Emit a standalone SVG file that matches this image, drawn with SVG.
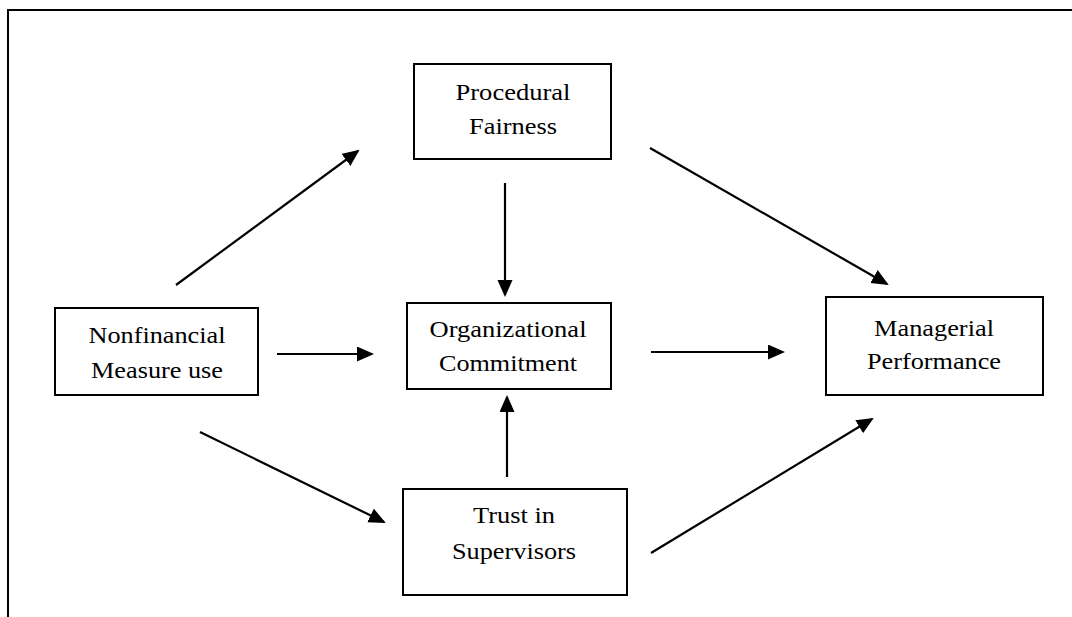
<svg xmlns="http://www.w3.org/2000/svg" width="1072" height="617" viewBox="0 0 1072 617">
<style>
.box{fill:#fff;stroke:#000;stroke-width:2}
.t{font-family:"Liberation Serif","Times New Roman",serif;font-size:23px;fill:#000;text-anchor:middle}
.c{stroke:#000;stroke-width:2.2;fill:none;marker-end:url(#ah)}
.frame{stroke:#000;stroke-width:2;fill:none}
</style>
<defs>
<marker id="ah" markerUnits="userSpaceOnUse" markerWidth="18" markerHeight="16" refX="15" refY="7.5" orient="auto" viewBox="0 0 18 16">
<path d="M0,0 L17,7.5 L0,15 Z" fill="#000"/>
</marker>
</defs>
<path class="frame" d="M8,617 L8,10 L1072,10"/>
<g id="procedural-fairness">
<rect class="box" x="414" y="64" width="197" height="95"/>
<text class="t" x="513" y="100" textLength="115" lengthAdjust="spacingAndGlyphs">Procedural</text>
<text class="t" x="513" y="134" textLength="88" lengthAdjust="spacingAndGlyphs">Fairness</text>
</g>
<g id="nonfinancial-measure-use">
<rect class="box" x="55" y="308" width="203" height="87"/>
<text class="t" x="157" y="343" textLength="137" lengthAdjust="spacingAndGlyphs">Nonfinancial</text>
<text class="t" x="157" y="378" textLength="132" lengthAdjust="spacingAndGlyphs">Measure use</text>
</g>
<g id="organizational-commitment">
<rect class="box" x="407" y="303" width="204" height="86"/>
<text class="t" x="508" y="337" textLength="157" lengthAdjust="spacingAndGlyphs">Organizational</text>
<text class="t" x="508" y="371" textLength="138" lengthAdjust="spacingAndGlyphs">Commitment</text>
</g>
<g id="managerial-performance">
<rect class="box" x="826" y="297" width="217" height="98"/>
<text class="t" x="934" y="336" textLength="120" lengthAdjust="spacingAndGlyphs">Managerial</text>
<text class="t" x="934" y="369" textLength="134" lengthAdjust="spacingAndGlyphs">Performance</text>
</g>
<g id="trust-in-supervisors">
<rect class="box" x="403" y="489" width="224" height="106"/>
<text class="t" x="514" y="523" textLength="82" lengthAdjust="spacingAndGlyphs">Trust in</text>
<text class="t" x="514" y="559" textLength="124" lengthAdjust="spacingAndGlyphs">Supervisors</text>
</g>
<g id="connectors">
<line class="c" x1="176" y1="285" x2="358" y2="151"/>
<line class="c" x1="505" y1="183" x2="505" y2="295"/>
<line class="c" x1="277" y1="354" x2="372" y2="354"/>
<line class="c" x1="651" y1="352" x2="783" y2="352"/>
<line class="c" x1="507" y1="477" x2="507" y2="397"/>
<line class="c" x1="200" y1="432" x2="384" y2="522"/>
<line class="c" x1="651" y1="553" x2="872" y2="419"/>
<line class="c" x1="650" y1="148" x2="887" y2="284"/>
</g>
</svg>
